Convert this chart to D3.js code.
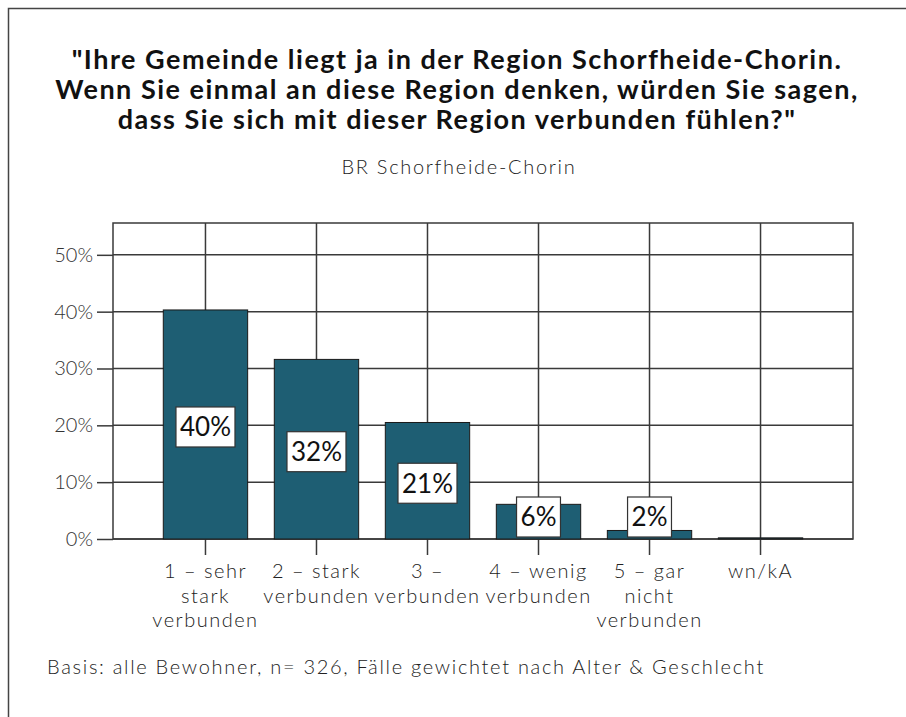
<!DOCTYPE html>
<html>
<head>
<meta charset="utf-8">
<script src="https://cdn.jsdelivr.net/npm/d3@7"></script>
<style>
  body { margin: 0; background: #fff; }
  text { font-family: Lato, "Open Sans", sans-serif; }
</style>
</head>
<body>
<div id="chart"></div>
<script>
// data
var categories = ["1 – sehr stark verbunden", "2 – stark verbunden", "3 – verbunden", "4 – wenig verbunden", "5 – gar nicht verbunden", "wn/kA"];
var tickLines = [["1 – sehr", "stark", "verbunden"], ["2 – stark", "verbunden"], ["3 –", "verbunden"], ["4 – wenig", "verbunden"], ["5 – gar", "nicht", "verbunden"], ["wn/kA"]];
var percents = [40.3, 31.6, 20.5, 6.1, 1.5, 0.2];
var valueLabels = ["40%", "32%", "21%", "6%", "2%", ""];
var yTicks = [0, 10, 20, 30, 40, 50];
var titleLines = ["\"Ihre Gemeinde liegt ja in der Region Schorfheide-Chorin.",
                  "Wenn Sie einmal an diese Region denken, würden Sie sagen,",
                  "dass Sie sich mit dieser Region verbunden fühlen?\""];
var subtitle = "BR Schorfheide-Chorin";
var footnote = "Basis: alle Bewohner, n= 326, Fälle gewichtet nach Alter & Geschlecht";

var W = 906, H = 717,
    plotLeft = 113, plotRight = 853, plotTop = 223, plotBottom = 539,
    gridColor = "#3a3a3a", barColor = "#1e5e73";

var svg = d3.select("#chart").append("svg").attr("width", W).attr("height", H);

// outer frame (right and bottom edges fall outside the picture)
svg.append("rect").attr("x", 8.5).attr("y", 8.5).attr("width", 1000).attr("height", 1000)
  .attr("fill", "none").attr("stroke", "#444").attr("stroke-width", 1.5);

// title
svg.append("g").selectAll("text").data(titleLines).enter().append("text")
  .attr("x", 457).attr("y", function(d, i) { return 69 + i * 30; })
  .attr("text-anchor", "middle").attr("font-size", 27).attr("font-weight", 700)
  .attr("letter-spacing", 1.5).attr("fill", "#111").text(function(d) { return d; });

svg.append("text").attr("x", 459).attr("y", 174).attr("text-anchor", "middle")
  .attr("font-size", 20).attr("font-weight", 300).attr("letter-spacing", 1.7)
  .attr("fill", "#222").text(subtitle);

var x = d3.scaleBand().domain(categories).range([plotLeft, plotRight])
  .paddingInner(0.24).paddingOuter(0.453);
var y = d3.scaleLinear().domain([0, 55.6]).range([plotBottom, plotTop]);

// grid
var grid = svg.append("g").attr("stroke", gridColor).attr("stroke-width", 1.5);
grid.selectAll("line.h").data(yTicks).enter().append("line").attr("class", "h")
  .attr("x1", plotLeft).attr("x2", plotRight)
  .attr("y1", function(d) { return y(d); }).attr("y2", function(d) { return y(d); });
grid.selectAll("line.v").data(categories).enter().append("line").attr("class", "v")
  .attr("x1", function(d) { return x(d) + x.bandwidth() / 2; })
  .attr("x2", function(d) { return x(d) + x.bandwidth() / 2; })
  .attr("y1", plotTop).attr("y2", plotBottom);
grid.append("rect").attr("x", plotLeft).attr("y", plotTop)
  .attr("width", plotRight - plotLeft).attr("height", plotBottom - plotTop).attr("fill", "none");

// y axis
var yAxis = svg.append("g").attr("transform", "translate(" + plotLeft + ",0)")
  .call(d3.axisLeft(y).tickValues(yTicks).tickFormat(function(d) { return d + "%"; }).tickSize(16).tickPadding(4));
yAxis.select(".domain").remove();
yAxis.selectAll("line").attr("stroke", gridColor).attr("stroke-width", 1.5);
yAxis.selectAll("text").attr("font-size", 20).attr("font-weight", 300).attr("fill", "#333")
  .attr("font-family", "Lato, sans-serif");

// x axis
var xAxis = svg.append("g").attr("transform", "translate(0," + plotBottom + ")")
  .call(d3.axisBottom(x).tickSize(16).tickFormat(""));
xAxis.select(".domain").remove();
xAxis.selectAll("line").attr("stroke", gridColor).attr("stroke-width", 1.5);
xAxis.selectAll(".tick").append("text")
  .attr("text-anchor", "middle").attr("font-size", 20).attr("font-weight", 300)
  .attr("letter-spacing", 1.5).attr("fill", "#222").attr("font-family", "Lato, sans-serif")
  .each(function(d, i) {
    var t = d3.select(this);
    tickLines[i].forEach(function(line, j) {
      t.append("tspan").attr("x", 0).attr("y", 39 + j * 24.5).text(line);
    });
  });

// bars
svg.append("g").selectAll("rect").data(percents).enter().append("rect")
  .attr("x", function(d, i) { return x(categories[i]); })
  .attr("width", x.bandwidth())
  .attr("y", function(d) { return y(d); })
  .attr("height", function(d) { return y(0) - y(d); })
  .attr("fill", barColor).attr("stroke", "#1a1a1a").attr("stroke-width", 1);

// value labels in white boxes
var labels = svg.append("g").selectAll("g").data(percents).enter()
  .filter(function(d, i) { return valueLabels[i] !== ""; })
  .append("g")
  .attr("transform", function(d, i) {
    var cy = Math.min(y(d / 2) + 2.5, plotBottom - 22);
    return "translate(" + (x(categories[i]) + x.bandwidth() / 2) + "," + cy + ")";
  });
labels.append("text").attr("text-anchor", "middle").attr("dy", "0.36em")
  .attr("font-size", 26).attr("fill", "#111")
  .text(function(d) { return valueLabels[percents.indexOf(d)]; });
labels.each(function() {
  var g = d3.select(this), bb = g.select("text").node().getBBox();
  g.insert("rect", "text").attr("x", bb.x - 4).attr("y", -20)
    .attr("width", bb.width + 8).attr("height", 40)
    .attr("fill", "#fff").attr("stroke", "#333").attr("stroke-width", 1.2);
});

// footnote
svg.append("text").attr("x", 47).attr("y", 674).attr("font-size", 20).attr("font-weight", 300)
  .attr("letter-spacing", 1.7).attr("fill", "#222").text(footnote);
</script>
</body>
</html>
